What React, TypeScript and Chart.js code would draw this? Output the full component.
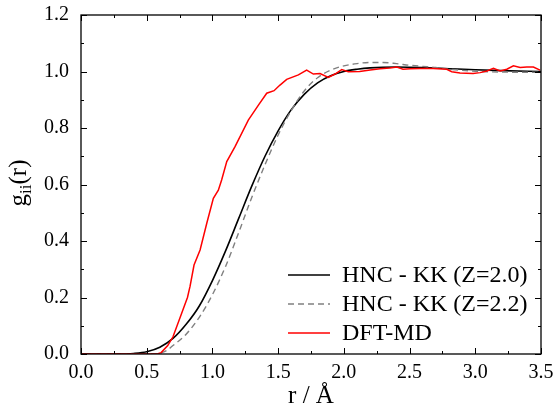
import React, { useEffect, useRef } from "react";
import { Chart, registerables } from "chart.js";

Chart.register(...registerables);

const xTicks = [0, 0.5, 1.0, 1.5, 2.0, 2.5, 3.0, 3.5];
const yTicks = [0, 0.2, 0.4, 0.6, 0.8, 1.0, 1.2];

const legendLabels = ["HNC - KK (Z=2.0)", "HNC - KK (Z=2.2)", "DFT-MD"];

const rZ20 = [0, 0.3, 0.4, 0.5, 0.6, 0.7, 0.8, 0.9, 1.0, 1.1, 1.2, 1.3, 1.4, 1.5, 1.6, 1.7, 1.8, 1.9, 2.0, 2.1, 2.2, 2.4, 2.6, 2.8, 3.0, 3.2, 3.5];
const gZ20 = [0, 0, 0.002, 0.008, 0.024, 0.055, 0.105, 0.17, 0.26, 0.365, 0.48, 0.595, 0.7, 0.79, 0.865, 0.92, 0.96, 0.985, 1.0, 1.008, 1.013, 1.016, 1.014, 1.01, 1.006, 1.003, 1.0];

const rZ22 = [0, 0.55, 0.6, 0.65, 0.7, 0.8, 0.9, 1.0, 1.1, 1.2, 1.3, 1.4, 1.5, 1.6, 1.7, 1.8, 1.9, 2.0, 2.1, 2.2, 2.3, 2.4, 2.5, 2.6, 2.7, 2.8, 2.9, 3.0, 3.2, 3.5];
const gZ22 = [0, 0, 0.003, 0.012, 0.03, 0.07, 0.13, 0.21, 0.31, 0.43, 0.555, 0.67, 0.775, 0.862, 0.932, 0.978, 1.005, 1.02, 1.028, 1.032, 1.032, 1.028, 1.022, 1.018, 1.014, 1.008, 1.004, 1.001, 0.998, 0.997];

const rDFT = [0, 0.58, 0.61, 0.66, 0.7, 0.766, 0.81, 0.83, 0.86, 0.906, 0.957, 1.007, 1.045, 1.07, 1.109, 1.172, 1.273, 1.35, 1.413, 1.469, 1.514, 1.565, 1.654, 1.717, 1.768, 1.819, 1.882, 1.933, 1.984, 2.034, 2.12, 2.2, 2.275, 2.35, 2.403, 2.45, 2.504, 2.58, 2.679, 2.783, 2.821, 2.884, 2.983, 3.037, 3.088, 3.138, 3.189, 3.24, 3.29, 3.341, 3.392, 3.442, 3.493];
const gDFT = [0, 0, 0.005, 0.03, 0.061, 0.144, 0.2, 0.24, 0.315, 0.368, 0.463, 0.551, 0.58, 0.616, 0.681, 0.734, 0.828, 0.881, 0.923, 0.932, 0.952, 0.972, 0.988, 1.005, 0.991, 0.993, 0.979, 0.991, 1.007, 0.999, 1.0, 1.005, 1.01, 1.012, 1.016, 1.008, 1.01, 1.011, 1.011, 1.008, 0.999, 0.995, 0.993, 0.996, 1.002, 1.011, 1.002, 1.008, 1.02, 1.014, 1.016, 1.016, 1.005];

const pts = (xs: number[], ys: number[]) => xs.map((x, i) => ({ x, y: ys[i] }));

const SERIF = "'Liberation Serif', 'DejaVu Serif', serif";

const zeroPad = (s: any) => {
  s.paddingTop = 0;
  s.paddingBottom = 0;
  s.paddingLeft = 0;
  s.paddingRight = 0;
};

const decorPlugin = {
  id: "decor",
  afterDraw(chart: any) {
    const ctx = chart.ctx;
    const { left, right, top, bottom } = chart.chartArea;
    const xs = chart.scales.x;
    const ys = chart.scales.y;
    ctx.save();
    ctx.strokeStyle = "#000";
    ctx.lineWidth = 1.3;
    ctx.strokeRect(left, top, right - left, bottom - top);
    ctx.lineWidth = 1;
    ctx.beginPath();
    for (let v = 0; v <= 3.5001; v += 0.25) {
      const major = Math.abs(v / 0.5 - Math.round(v / 0.5)) < 1e-6;
      const len = major ? 6 : 3;
      const px = Math.round(xs.getPixelForValue(v)) + 0.5;
      ctx.moveTo(px, bottom);
      ctx.lineTo(px, bottom - len);
      ctx.moveTo(px, top);
      ctx.lineTo(px, top + len);
    }
    for (let v = 0; v <= 1.2001; v += 0.1) {
      const major = Math.abs(v / 0.2 - Math.round(v / 0.2)) < 1e-6;
      const len = major ? 6 : 3;
      const py = Math.round(ys.getPixelForValue(v)) + 0.5;
      ctx.moveTo(left, py);
      ctx.lineTo(left + len, py);
      ctx.moveTo(right, py);
      ctx.lineTo(right - len, py);
    }
    ctx.stroke();

    const ds = chart.data.datasets;
    const rowY = [275, 304, 333];
    ctx.textBaseline = "middle";
    ctx.textAlign = "left";
    ctx.font = `24px ${SERIF}`;
    ds.forEach((d: any, i: number) => {
      ctx.beginPath();
      ctx.strokeStyle = d.borderColor;
      ctx.lineWidth = d.borderWidth;
      ctx.setLineDash(d.borderDash || []);
      ctx.moveTo(288, rowY[i]);
      ctx.lineTo(330, rowY[i]);
      ctx.stroke();
      ctx.setLineDash([]);
      ctx.fillStyle = "#000";
      ctx.fillText(legendLabels[i], 342, rowY[i] + 1);
    });

    ctx.fillStyle = "#000";
    ctx.textAlign = "center";
    ctx.textBaseline = "alphabetic";
    ctx.font = `25px ${SERIF}`;
    ctx.fillText("r / Å", (left + right) / 2, 403);

    ctx.translate(26, 183);
    ctx.rotate(-Math.PI / 2);
    ctx.textAlign = "left";
    const mainFont = `25px ${SERIF}`;
    const subFont = `17px ${SERIF}`;
    ctx.font = mainFont;
    const wg = ctx.measureText("g").width;
    const wr = ctx.measureText("(r)").width;
    ctx.font = subFont;
    const wi = ctx.measureText("ii").width;
    const total = wg + wi + wr;
    const x0 = -total / 2;
    ctx.font = mainFont;
    ctx.fillText("g", x0, 0);
    ctx.font = subFont;
    ctx.fillText("ii", x0 + wg, 5);
    ctx.font = mainFont;
    ctx.fillText("(r)", x0 + wg + wi, 0);
    ctx.restore();
  },
};

export default function App() {
  const ref = useRef<HTMLCanvasElement>(null);
  useEffect(() => {
    if (!ref.current) return;
    const chart = new Chart(ref.current, {
      type: "line",
      data: {
        datasets: [
          {
            label: legendLabels[0],
            data: pts(rZ20, gZ20),
            borderColor: "#000000",
            borderWidth: 1.6,
            pointRadius: 0,
            cubicInterpolationMode: "monotone",
            order: 2,
          },
          {
            label: legendLabels[1],
            data: pts(rZ22, gZ22),
            borderColor: "#808080",
            borderWidth: 1.4,
            borderDash: [6, 4],
            pointRadius: 0,
            cubicInterpolationMode: "monotone",
            order: 1,
          },
          {
            label: legendLabels[2],
            data: pts(rDFT, gDFT),
            borderColor: "#ff0000",
            borderWidth: 1.5,
            pointRadius: 0,
            tension: 0,
            order: 0,
          },
        ],
      },
      options: {
        responsive: false,
        animation: false,
        layout: { padding: { top: 15, right: 15, left: 0, bottom: 0 } },
        plugins: { legend: { display: false }, tooltip: { enabled: false } },
        scales: {
          x: {
            type: "linear",
            min: 0,
            max: 3.5,
            afterFit: (s: any) => { s.height = 59; zeroPad(s); },
            afterBuildTicks: (s: any) => { s.ticks = xTicks.map((v) => ({ value: v })); },
            grid: { display: false, drawTicks: false },
            border: { display: false },
            ticks: {
              padding: 7,
              color: "#000",
              font: { family: SERIF, size: 20 },
              callback: (v: any) => Number(v).toFixed(1),
            },
          },
          y: {
            type: "linear",
            min: 0,
            max: 1.2,
            afterFit: (s: any) => { s.width = 81; zeroPad(s); },
            afterBuildTicks: (s: any) => { s.ticks = yTicks.map((v) => ({ value: v })); },
            grid: { display: false, drawTicks: false },
            border: { display: false },
            ticks: {
              padding: 12,
              color: "#000",
              font: { family: SERIF, size: 20 },
              callback: (v: any) => Number(v).toFixed(1),
            },
          },
        },
      },
      plugins: [decorPlugin],
    } as any);
    return () => chart.destroy();
  }, []);
  return (
    <div style={{ position: "fixed", left: 0, top: 0, width: 556, height: 413, background: "#fff" }}>
      <canvas ref={ref} width={556} height={413} />
    </div>
  );
}
